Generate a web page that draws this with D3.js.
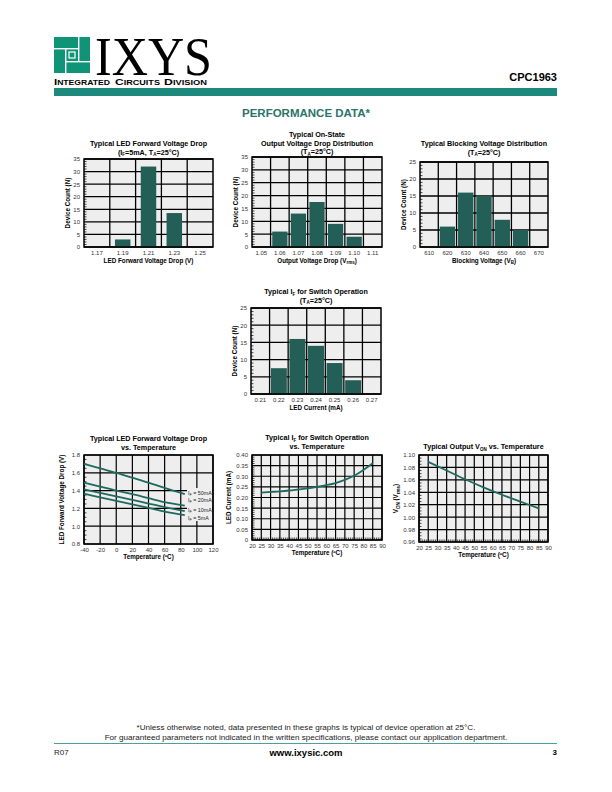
<!DOCTYPE html>
<html><head><meta charset="utf-8">
<script src="https://cdn.jsdelivr.net/npm/d3@7"></script>
<style>
body{margin:0;background:#fff}
svg{display:block}
text{font-family:"Liberation Sans",Arial,sans-serif}
</style>
</head><body>
<svg id="c" width="612" height="792"></svg>
<script>
// ---------- data ----------
const vfCats = ["1.17","1.19","1.21","1.23","1.25"];
const vfCounts = [0,3,32,13.5,0];
const vonCats = ["1.05","1.06","1.07","1.08","1.09","1.10","1.11"];
const vonCounts = [0,6,13,17.5,9,4,0];
const bvCats = ["610","620","630","640","650","660","670"];
const bvCounts = [0,6,16,15,8,5,0];
const ifCats = ["0.21","0.22","0.23","0.24","0.25","0.26","0.27"];
const ifCounts = [0,7.5,16,14,9,4,0];

const tempVf = [-40,-20,0,20,40,60,85];
const vf50 = [1.70,1.65,1.60,1.545,1.49,1.43,1.36];
const vf20 = [1.49,1.445,1.40,1.36,1.315,1.27,1.23];
const vf10 = [1.415,1.375,1.335,1.295,1.255,1.215,1.17];
const vf5  = [1.365,1.325,1.285,1.245,1.205,1.165,1.125];
const vfSeriesLabels = ["50mA","20mA","10mA","5mA"];

const tempIf = [25,30,35,40,45,50,55,60,65,70,75,80,85];
const ifTemp = [0.223,0.226,0.229,0.233,0.238,0.243,0.250,0.258,0.268,0.283,0.302,0.329,0.361];

const tempVon = [25,35,45,55,65,75,85];
const vonTemp = [1.089,1.075,1.061,1.048,1.036,1.025,1.014];

// ---------- styles ----------
const TEAL = "#1d887c";
const BAR = "#235f56";
const LINE = "#1e6a5e";
const BG = "#eeeeee";

const svg = d3.select("#c");

function rich(sel, parts){
  let pend = 0;
  parts.forEach(p=>{
    if(typeof p === "string"){
      const t = sel.append("tspan").text(p);
      if(pend){ t.attr("dy", -pend); pend = 0; }
    } else {
      const d = p.dy||1.5;
      sel.append("tspan").attr("font-size", p.fs||4.5).attr("dy", d).text(p.sub);
      pend = d;
    }
  });
  return sel;
}
function txt(x,y,parts,opt={}){
  const t = svg.append("text").attr("x",x).attr("y",y)
    .attr("font-size",opt.fs||7).attr("font-weight",opt.fw||"bold")
    .attr("text-anchor",opt.anchor||"middle").attr("fill",opt.fill||"#000");
  if(opt.rotate) t.attr("transform",`rotate(-90,${x},${y})`);
  return rich(t, Array.isArray(parts)?parts:[parts]);
}

// ---------- header ----------
(function(){
  const lx=54, ly=37, s=36, gap=1.4;
  svg.append("rect").attr("x",lx).attr("y",ly).attr("width",s).attr("height",s).attr("fill","#0f9477");
  const w = "#fff";
  svg.append("rect").attr("x",lx).attr("y",ly+11).attr("width",25).attr("height",gap).attr("fill",w);
  svg.append("rect").attr("x",lx+24).attr("y",ly).attr("width",gap).attr("height",25).attr("fill",w);
  svg.append("rect").attr("x",lx+11).attr("y",ly+24).attr("width",25).attr("height",gap).attr("fill",w);
  svg.append("rect").attr("x",lx+11).attr("y",ly+11).attr("width",gap).attr("height",25).attr("fill",w);
  svg.append("rect").attr("x",lx+15).attr("y",ly+15).attr("width",6).attr("height",6).attr("fill","none").attr("stroke",w).attr("stroke-width",1.2);
  svg.append("text").attr("x",95).attr("y",75).attr("font-size",54)
    .style("font-family","'Liberation Serif','Times New Roman',serif")
    .attr("textLength",117).attr("lengthAdjust","spacingAndGlyphs").text("IXYS");
  [["I","NTEGRATED",54,56],["C","IRCUITS",115,45],["D","IVISION",164,43]].forEach(([a,b,x,len])=>{
    const t = svg.append("text").attr("x",x).attr("y",85).attr("font-weight","bold")
      .attr("textLength",len).attr("lengthAdjust","spacingAndGlyphs");
    t.append("tspan").attr("font-size",9).text(a);
    t.append("tspan").attr("font-size",6.8).text(b);
  });
  txt(557,81,"CPC1963",{fs:11,anchor:"end",fw:"bold"});
  svg.append("rect").attr("x",54).attr("y",88).attr("width",503).attr("height",8).attr("fill",TEAL);
  txt(306,117,"PERFORMANCE DATA*",{fs:11.5,fill:"#2a7468"});
})();

// ---------- histogram ----------
function hist(o){
  const g = svg.append("g");
  const x = d3.scaleBand().domain(o.cats).range([o.x0,o.x1]);
  const y = d3.scaleLinear().domain([0,o.ymax]).range([o.y1,o.y0]);
  g.append("rect").attr("x",o.x0).attr("y",o.y0).attr("width",o.x1-o.x0).attr("height",o.y1-o.y0).attr("fill",BG);
  const yt = d3.range(0,o.ymax+0.001,5);
  g.selectAll(".hg").data(yt).join("line").attr("x1",o.x0).attr("x2",o.x1)
    .attr("y1",d=>y(d)).attr("y2",d=>y(d)).attr("stroke","#000").attr("stroke-width",1.3);
  g.selectAll(".vg").data(o.cats.slice(1)).join("line").attr("x1",d=>x(d)).attr("x2",d=>x(d))
    .attr("y1",o.y0).attr("y2",o.y1).attr("stroke","#000").attr("stroke-width",1.3);
  const bw = x.bandwidth()*o.bw;
  g.selectAll(".bar").data(o.cats.map((c,i)=>({c,v:o.vals[i]})).filter(d=>d.v>0)).join("rect")
    .attr("x",d=>x(d.c)+(x.bandwidth()-bw)/2).attr("width",bw)
    .attr("y",d=>y(d.v)).attr("height",d=>y(0)-y(d.v)).attr("fill",BAR);
  g.selectAll(".mt").data(d3.range(1,o.ymax,1).filter(d=>d%5)).join("line")
    .attr("x1",o.x0).attr("x2",o.x0+2.5).attr("y1",d=>y(d)).attr("y2",d=>y(d)).attr("stroke","#000").attr("stroke-width",0.7);
  g.append("rect").attr("x",o.x0).attr("y",o.y0).attr("width",o.x1-o.x0).attr("height",o.y1-o.y0)
    .attr("fill","none").attr("stroke","#000").attr("stroke-width",1.5);
  const ya = g.append("g").attr("transform",`translate(${o.x0},0)`)
    .call(d3.axisLeft(y).tickValues(yt).tickSize(0).tickPadding(4).tickFormat(d3.format("d")));
  const xa = g.append("g").attr("transform",`translate(0,${o.y1})`)
    .call(d3.axisBottom(x).tickSize(0).tickPadding(4));
  [ya,xa].forEach(a=>{a.select(".domain").remove();
    a.selectAll("text").attr("font-size",6).attr("fill","#333").style("font-family","'Liberation Sans',Arial,sans-serif");});
  o.title.forEach((t,i)=>txt((o.x0+o.x1)/2, o.ty+i*8.5, t, {fs:7.2}));
  txt((o.x0+o.x1)/2, o.y1+15.5, o.xlab, {fs:6.3});
  txt(o.x0-14, (o.y0+o.y1)/2, o.ylab, {fs:6.3, rotate:true});
}

hist({x0:84,x1:213,y0:159,y1:247,cats:vfCats,vals:vfCounts,ymax:35,bw:0.6,ty:146,
  title:[["Typical LED Forward Voltage Drop"],["(I",{sub:"F"},"=5mA, T",{sub:"A"},"=25°C)"]],
  xlab:"LED Forward Voltage Drop (V)", ylab:"Device Count (N)"});
hist({x0:252,x1:382,y0:157,y1:247,cats:vonCats,vals:vonCounts,ymax:35,bw:0.82,ty:137,
  title:[["Typical On-State"],["Output Voltage Drop Distribution"],["(T",{sub:"A"},"=25°C)"]],
  xlab:["Output Voltage Drop (V",{sub:"rms"},")"], ylab:"Device Count (N)"});
hist({x0:420,x1:548,y0:162,y1:247,cats:bvCats,vals:bvCounts,ymax:25,bw:0.84,ty:146,
  title:[["Typical Blocking Voltage Distribution"],["(T",{sub:"A"},"=25°C)"]],
  xlab:["Blocking Voltage (V",{sub:"B"},")"], ylab:"Device Count (N)"});
hist({x0:251,x1:381,y0:308,y1:394,cats:ifCats,vals:ifCounts,ymax:25,bw:0.86,ty:294,
  title:[["Typical I",{sub:"F"}," for Switch Operation"],["(T",{sub:"A"},"=25°C)"]],
  xlab:"LED Current (mA)", ylab:"Device Count (N)"});

// ---------- line charts ----------
function linechart(o){
  const g = svg.append("g");
  const x = d3.scaleLinear().domain(o.xd).range([o.x0,o.x1]);
  const y = d3.scaleLinear().domain(o.yd).range([o.y1,o.y0]);
  g.append("rect").attr("x",o.x0).attr("y",o.y0).attr("width",o.x1-o.x0).attr("height",o.y1-o.y0).attr("fill",BG);
  g.selectAll(".hg").data(o.yt).join("line").attr("x1",o.x0).attr("x2",o.x1)
    .attr("y1",d=>y(d)).attr("y2",d=>y(d)).attr("stroke","#000").attr("stroke-width",1.2);
  g.selectAll(".vg").data(o.xt).join("line").attr("x1",d=>x(d)).attr("x2",d=>x(d))
    .attr("y1",o.y0).attr("y2",o.y1).attr("stroke","#000").attr("stroke-width",1.2);
  if(o.ym) g.selectAll(".ym").data(o.ym).join("line").attr("x1",o.x0).attr("x2",o.x0+2.5)
    .attr("y1",d=>y(d)).attr("y2",d=>y(d)).attr("stroke","#000").attr("stroke-width",0.7);
  if(o.xm) g.selectAll(".xm").data(o.xm).join("line").attr("y1",o.y1).attr("y2",o.y1-2.5)
    .attr("x1",d=>x(d)).attr("x2",d=>x(d)).attr("stroke","#000").attr("stroke-width",0.7);
  if(o.legendBox) g.append("rect").attr("x",o.legendBox[0]).attr("y",o.legendBox[1])
    .attr("width",o.legendBox[2]).attr("height",o.legendBox[3]).attr("fill",BG);
  g.append("rect").attr("x",o.x0).attr("y",o.y0).attr("width",o.x1-o.x0).attr("height",o.y1-o.y0)
    .attr("fill","none").attr("stroke","#000").attr("stroke-width",1.5);
  const line = d3.line().x(d=>x(d[0])).y(d=>y(d[1])).curve(d3.curveMonotoneX);
  o.series.forEach(s=>{
    g.append("path").attr("d",line(o.xs.map((t,i)=>[t,s[i]]))).attr("fill","none")
      .attr("stroke",LINE).attr("stroke-width",1.8);
  });
  const ya = g.append("g").attr("transform",`translate(${o.x0},0)`)
    .call(d3.axisLeft(y).tickValues(o.yt).tickSize(0).tickPadding(4).tickFormat(o.yf));
  const xa = g.append("g").attr("transform",`translate(0,${o.y1})`)
    .call(d3.axisBottom(x).tickValues(o.xt).tickSize(0).tickPadding(4).tickFormat(d=>String(d)));
  [ya,xa].forEach(a=>{a.select(".domain").remove();
    a.selectAll("text").attr("font-size",6).attr("fill","#333").style("font-family","'Liberation Sans',Arial,sans-serif");});
  o.title.forEach((t,i)=>txt((o.x0+o.x1)/2, o.ty+i*8.5, t, {fs:7.2}));
  txt((o.x0+o.x1)/2, o.y1+15, o.xlab, {fs:6.3});
  txt(o.x0+(o.ylx||-18), (o.y0+o.y1)/2, o.ylab, {fs:6.3, rotate:true});
  return {x,y};
}

linechart({x0:84,x1:213,y0:455,y1:544,xd:[-40,120],yd:[0.8,1.8],
  xt:d3.range(-40,121,20), yt:[0.8,1.0,1.2,1.4,1.6,1.8], ym:d3.range(0.85,1.8,0.05).filter((d,i)=>(i+1)%4),
  yf:d3.format(".1f"), xs:tempVf, series:[vf50,vf20,vf10,vf5], ty:441, legendBox:[187,488,25,33],
  title:[["Typical LED Forward Voltage Drop"],["vs. Temperature"]],
  xlab:"Temperature (ºC)", ylab:"LED Forward Voltage Drop (V)", ylx:-20});
[[493.5,0],[500.5,1],[510.5,2],[518,3]].forEach(([yy,i])=>{
  txt(188,yy+1.8,["I",{sub:"F",fs:3.8,dy:1.1}," = "+vfSeriesLabels[i]],{fs:5.3,fw:"normal",anchor:"start",fill:"#222"});
});

linechart({x0:252,x1:382,y0:455,y1:540,xd:[20,90],yd:[0,0.40],
  xt:d3.range(20,91,5), yt:d3.range(0,0.401,0.05), ym:d3.range(0.01,0.4,0.01), xm:d3.range(21,90,1),
  yf:d=>d===0?"0":d3.format(".2f")(d), xs:tempIf, series:[ifTemp], ty:440,
  title:[["Typical I",{sub:"F"}," for Switch Operation"],["vs. Temperature"]],
  xlab:"Temperature (ºC)", ylab:"LED Current (mA)", ylx:-21});

linechart({x0:419,x1:548,y0:455,y1:542,xd:[20,90],yd:[0.96,1.10],
  xt:d3.range(20,91,5), yt:d3.range(0.96,1.1001,0.02), ym:d3.range(0.965,1.1,0.005), xm:d3.range(21,90,1),
  yf:d3.format(".2f"), xs:tempVon, series:[vonTemp], ty:449,
  title:[["Typical Output V",{sub:"ON"}," vs. Temperature"]],
  xlab:"Temperature (ºC)", ylab:["V",{sub:"ON"}," (V",{sub:"rms"},")"], ylx:-21});

// ---------- footer ----------
txt(306,730,"*Unless otherwise noted, data presented in these graphs is typical of device operation at 25°C.",{fs:8.1,fw:"normal",fill:"#222"});
txt(306,739.5,"For guaranteed parameters not indicated in the written specifications, please contact our application department.",{fs:8.1,fw:"normal",fill:"#222"});
svg.append("line").attr("x1",54).attr("x2",557).attr("y1",743.5).attr("y2",743.5).attr("stroke",TEAL).attr("stroke-width",0.8);
txt(54,755,"R07",{fs:8,fw:"normal",anchor:"start",fill:"#222"});
txt(306,755.5,"www.ixysic.com",{fs:9.5,fw:"bold"});
txt(557,755,"3",{fs:8,fw:"bold",anchor:"end"});
</script>
</body></html>
